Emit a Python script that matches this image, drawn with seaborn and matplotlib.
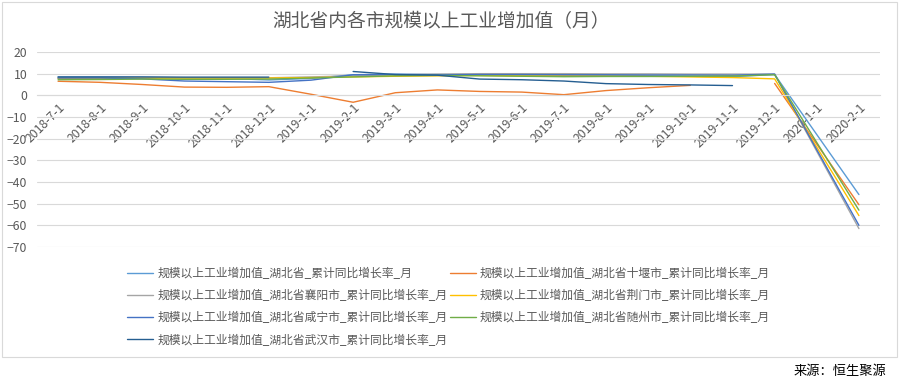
import numpy as np
import pandas as pd
import seaborn as sns
import matplotlib.pyplot as plt
from matplotlib.lines import Line2D
from matplotlib.patches import Rectangle

# axis categories (monthly)
months = ['2018-7-1', '2018-8-1', '2018-9-1', '2018-10-1', '2018-11-1', '2018-12-1',
          '2019-1-1', '2019-2-1', '2019-3-1', '2019-4-1', '2019-5-1', '2019-6-1',
          '2019-7-1', '2019-8-1', '2019-9-1', '2019-10-1', '2019-11-1', '2019-12-1',
          '2020-1-1', '2020-2-1']
# months with data (2020-1 has no data row)
obs_months = months[:18] + ['2020-2-1']

prefix = '规模以上工业增加值_'
suffix = '_累计同比增长率_月'
names = ['湖北省', '湖北省十堰市', '湖北省襄阳市', '湖北省荆门市',
         '湖北省咸宁市', '湖北省随州市', '湖北省武汉市']
colors = ['#5B9BD5', '#ED7D31', '#A5A5A5', '#FFC000', '#4472C4', '#70AD47', '#255E91']

hubei = [8.4, 8.4, 8.3, 8.1, 7.8, 7.1, 7.8, 9.5, 9.8, 9.6, 9.5, 9.4, 9.3, 9.2, 9.0, 8.8, 8.6, 9.6, -45.8]
shiyan = [6.5, 6.0, 5.0, 3.8, 3.7, 4.0, 0.5, -3.2, 1.2, 2.5, 1.8, 1.5, 0.3, 2.2, 3.5, 4.6, None, 5.5, -50.5]
xiangyang = [8.0, 8.0, 8.1, 8.0, 8.0, 8.1, 8.5, 9.0, 9.5, 9.8, 10.0, 10.0, 10.0, 9.9, 9.9, 9.8, 9.8, 9.8, -61.5]
jingmen = [7.8, 7.8, 7.9, 8.0, 8.0, 8.0, 8.2, 8.5, 8.8, 9.0, 9.2, 9.0, 9.0, 8.9, 8.8, 8.5, 8.2, 7.6, -55.5]
xianning = [8.0, 8.0, 7.6, 6.6, 6.3, 6.0, 7.0, 9.5, 9.6, 9.5, 9.6, 9.6, 9.5, 9.5, 9.4, 9.4, 9.3, 9.8, -60.0]
suizhou = [7.2, 7.3, 7.5, 7.4, 7.4, 7.5, 8.0, 8.5, 9.0, 9.2, 9.0, 8.8, 8.6, 8.7, 8.7, 8.8, 8.9, 9.5, -53.0]
wuhan = [8.5, 8.5, 8.5, 8.4, 8.4, 8.4, None, 11.0, 9.6, 9.3, 7.5, 7.2, 6.6, 5.4, 5.0, 4.8, 4.5, None, None]

series = [hubei, shiyan, xiangyang, jingmen, xianning, suizhou, wuhan]
labels = [prefix + n + suffix for n in names]

################################# data frame ################################

rows = []
for lab, vals in zip(labels, series):
    seg = 0
    for m, v in zip(obs_months, vals):
        if v is None:
            seg += 1
            continue
        rows.append({'pos': months.index(m), 'value': v, 'series': lab, 'seg': seg})
df = pd.DataFrame(rows)

################################# plot ######################################

sns.set_style('white')
plt.rcParams['font.family'] = ['Noto Sans CJK SC', 'DejaVu Sans']
txt = '#595959'
grid = '#D9D9D9'

fig = plt.figure(figsize=(9.01, 3.82), dpi=100)
ax = fig.add_axes([37 / 901, 1 - 247 / 382, 843 / 901, 195 / 382])

sns.lineplot(data=df, x='pos', y='value', hue='series', units='seg', estimator=None,
             hue_order=labels, palette=colors, linewidth=1.0, sort=True,
             legend=False, ax=ax)

ax.set_xlim(-0.5, len(months) - 0.5)
ax.set_ylim(-70, 20)
ax.set_yticks(np.arange(-70, 21, 10))
ax.yaxis.grid(True, color=grid, linewidth=0.8)
ax.set_axisbelow(True)
for s in ['left', 'right', 'top']:
    ax.spines[s].set_visible(False)
ax.spines['bottom'].set_position(('data', 0))
ax.spines['bottom'].set_color(grid)
ax.spines['bottom'].set_linewidth(0.8)

ax.set_xticks(range(len(months)))
ax.set_xticklabels(months, rotation=45, ha='right', rotation_mode='anchor')
ax.set_xticks(np.arange(-0.5, len(months), 1), minor=True)
ax.tick_params(axis='x', which='major', length=0, pad=4, labelsize=8.8, labelcolor=txt)
ax.tick_params(axis='x', which='minor', length=4, color=grid, direction='out')
ax.tick_params(axis='y', length=0, labelsize=8.8, labelcolor=txt, pad=7)
ax.set_xlabel('')
ax.set_ylabel('')

fig.text(0.49, 1 - 22 / 382, '湖北省内各市规模以上工业增加值（月）', ha='center', va='center',
         fontsize=13.5, color=txt)

# legend fills row by row in the reference
order = [0, 2, 4, 6, 1, 3, 5]
handles = [Line2D([], [], color=colors[i], linewidth=1.0) for i in order]
fig.legend(handles, [labels[i] for i in order], loc='upper left',
           bbox_to_anchor=(127 / 901, 1 - 267 / 382),
           ncol=2, frameon=False, fontsize=8.5, labelcolor=txt, handlelength=2.2,
           handletextpad=0.35, columnspacing=0.2, labelspacing=0.78, borderaxespad=0,
           borderpad=0)

fig.text(886 / 901, 1 - 371 / 382, '来源：恒生聚源', ha='right', va='center',
         fontsize=9.5, color='#000000')

fig.patches.append(Rectangle((2 / 901, 1 - 357 / 382), 895 / 901, 355 / 382,
                             transform=fig.transFigure, fill=False,
                             edgecolor=grid, linewidth=0.8))

plt.savefig('out.png', dpi=100)
